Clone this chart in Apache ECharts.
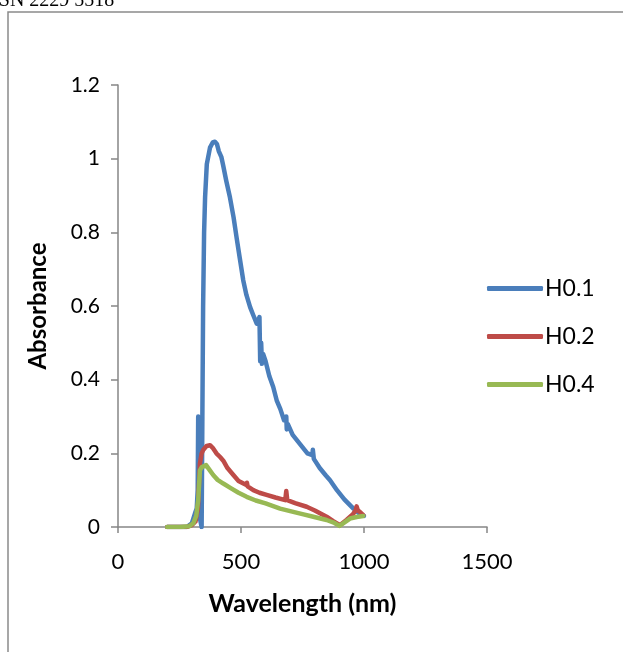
<!DOCTYPE html>
<html><head><meta charset="utf-8">
<script src="https://cdn.jsdelivr.net/npm/echarts@6/dist/echarts.min.js"></script>
<style>html,body{margin:0;padding:0;background:#fff}#c{width:623px;height:652px}</style>
</head><body><div id="c"></div>
<script>
const seriesNames = ['H0.1', 'H0.2', 'H0.4'];
const xTicks = [0, 500, 1000, 1500];
const yTicks = [0, 0.2, 0.4, 0.6, 0.8, 1, 1.2];

const h01Wavelength = [200,280,300,313,320,324,326,329,334,340,343,346,350,354,361,374,385,394,402,410,420,428,440,455,470,482,495,509,522,537,550,564,575,578,582,585,590,600,615,631,645,660,675,684,686,690,710,740,770,790,792,796,820,845,862,890,920,957,975,990,1000];
const h01Absorbance = [0,0,0.01,0.037,0.05,0.1,0.3,0.05,0.02,0,0.3,0.6,0.8,0.895,0.985,1.03,1.044,1.046,1.04,1.02,1.005,0.98,0.94,0.895,0.84,0.786,0.73,0.67,0.63,0.597,0.575,0.552,0.57,0.45,0.5,0.443,0.47,0.45,0.41,0.38,0.344,0.32,0.29,0.3,0.265,0.28,0.25,0.225,0.2,0.195,0.21,0.185,0.16,0.14,0.127,0.1,0.075,0.05,0.04,0.032,0.03];

const h02Wavelength = [200,280,300,315,325,330,333,340,347,360,374,385,400,415,428,445,469,490,510,522,524,527,550,575,604,640,680,684,688,720,767,800,848,875,902,930,955,966,970,975,985,997];
const h02Absorbance = [0,0,0.005,0.015,0.05,0.13,0.172,0.2,0.21,0.22,0.222,0.215,0.2,0.19,0.18,0.16,0.141,0.125,0.118,0.114,0.12,0.11,0.1,0.093,0.087,0.08,0.073,0.098,0.073,0.065,0.055,0.045,0.028,0.016,0.005,0.02,0.035,0.045,0.056,0.045,0.04,0.032];

const h04Wavelength = [200,252,290,306,318,326,333,340,347,358,372,387,405,428,460,490,523,560,600,659,700,750,794,848,880,900,915,943,970,997];
const h04Absorbance = [0,0,0.002,0.01,0.03,0.073,0.154,0.162,0.166,0.168,0.155,0.141,0.128,0.118,0.105,0.093,0.082,0.072,0.064,0.05,0.043,0.035,0.028,0.019,0.011,0.003,0.01,0.023,0.027,0.03];

const colors = ['#4A7EBB', '#BE4B48', '#98B954'];
const font = 'Lato, "Open Sans", sans-serif';

function pairs(xs, ys) { return xs.map((x, i) => [x, ys[i]]); }
const allData = [pairs(h01Wavelength, h01Absorbance), pairs(h02Wavelength, h02Absorbance), pairs(h04Wavelength, h04Absorbance)];

const chart = echarts.init(document.getElementById('c'), null, {renderer: 'canvas'});
chart.setOption({
  animation: false,
  backgroundColor: '#fff',
  grid: {left: 118, right: 136, top: 85, bottom: 125},
  graphic: [
    {type: 'rect', shape: {x: 8, y: 12, width: 700, height: 700}, style: {fill: 'none', stroke: '#8a8a8a', lineWidth: 1.5}},
    {type: 'text', left: -19, top: -9, style: {text: 'ISSN 2229 5518', font: '20px "Liberation Serif", serif', fill: '#000'}}
  ],
  legend: {
    orient: 'vertical', left: 482, top: 272, itemGap: 25,
    itemWidth: 56, itemHeight: 5, icon: 'roundRect',
    textStyle: {fontFamily: font, fontSize: 23, color: '#000', padding: [0, 0, 0, -3]},
    data: seriesNames
  },
  xAxis: {
    type: 'value', min: xTicks[0], max: xTicks[xTicks.length - 1], interval: 500,
    name: 'Wavelength (nm)', nameLocation: 'middle', nameGap: 64,
    nameTextStyle: {fontFamily: font, fontSize: 25, fontWeight: 'bold', color: '#000'},
    axisLine: {lineStyle: {color: '#868686', width: 1.5}},
    axisTick: {show: true, length: 6, lineStyle: {color: '#868686', width: 1.5}},
    axisLabel: {margin: 24, fontFamily: font, fontSize: 22, color: '#000', formatter: v => String(v)},
    splitLine: {show: false}
  },
  yAxis: {
    type: 'value', min: yTicks[0], max: yTicks[yTicks.length - 1], interval: 0.2,
    name: 'Absorbance', nameLocation: 'middle', nameGap: 68, nameRotate: 90,
    nameTextStyle: {fontFamily: font, fontSize: 24, fontWeight: 'bold', color: '#000'},
    axisLine: {show: true, lineStyle: {color: '#868686', width: 1.5}},
    axisTick: {show: true, length: 7, lineStyle: {color: '#868686', width: 1.5}},
    axisLabel: {margin: 18, fontFamily: font, fontSize: 21, color: '#000', formatter: v => String(Math.round(v * 10) / 10)},
    splitLine: {show: false}
  },
  series: seriesNames.map((n, i) => ({
    name: n, type: 'line', data: allData[i], showSymbol: false, symbol: 'none',
    lineStyle: {color: colors[i], width: 4.5, cap: 'round', join: 'round'},
    itemStyle: {color: colors[i]}, z: 3 + i
  }))
});
</script></body></html>
